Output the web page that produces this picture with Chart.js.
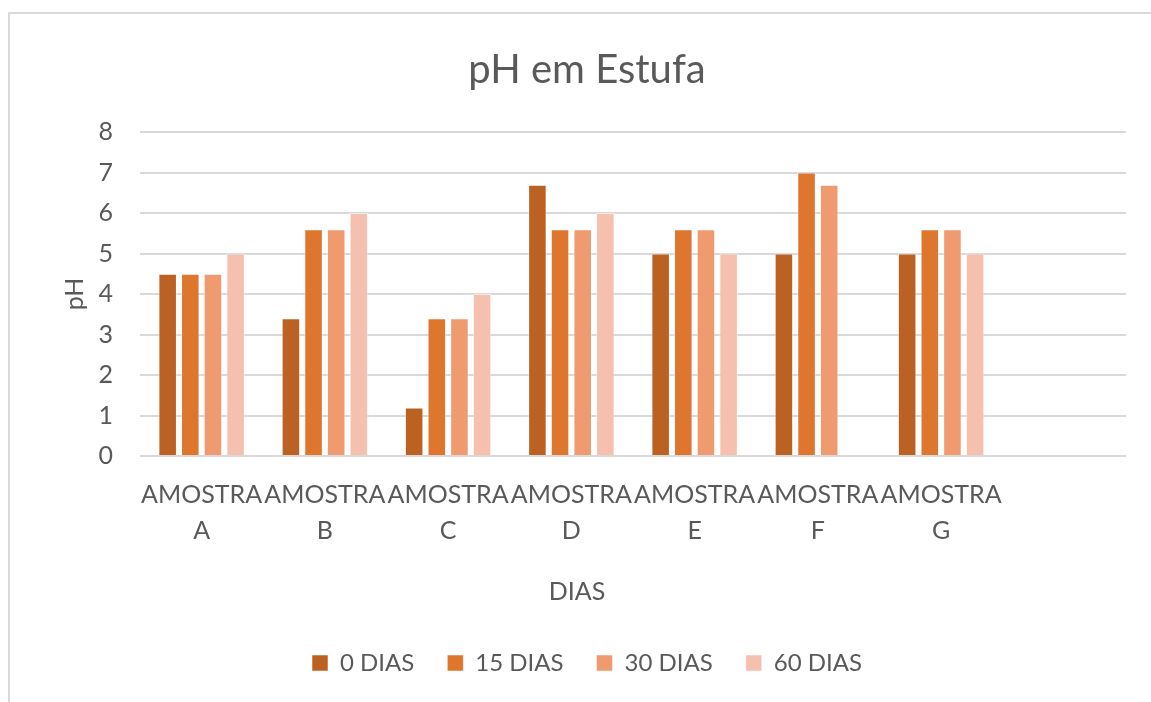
<!DOCTYPE html>
<html>
<head>
<meta charset="utf-8">
<script src="https://cdn.jsdelivr.net/npm/chart.js@4.4.1/dist/chart.umd.min.js"></script>
<style>
  html, body { margin: 0; padding: 0; background: #fff; }
  #frame {
    position: absolute; left: 8px; top: 12px; width: 1200px; height: 760px;
    border-left: 2px solid #d9d9d9; border-top: 2px solid #d9d9d9;
  }
  #wrap { position: absolute; left: 0; top: 0; width: 1151px; height: 702px; }
</style>
</head>
<body>
<div id="frame"></div>
<div id="wrap"><canvas id="myChart"></canvas></div>
<script>
const amostras = [
  ["AMOSTRA", "A"], ["AMOSTRA", "B"], ["AMOSTRA", "C"], ["AMOSTRA", "D"],
  ["AMOSTRA", "E"], ["AMOSTRA", "F"], ["AMOSTRA", "G"], ""
];
const dias0 = [4.5, 3.4, 1.2, 6.7, 5, 5, 5, null];
const dias15 = [4.5, 5.6, 3.4, 5.6, 5.6, 7, 5.6, null];
const dias30 = [4.5, 5.6, 3.4, 5.6, 5.6, 6.7, 5.6, null];
const dias60 = [5, 6, 4, 6, 5, null, 5, null];
const yTicks = [0, 1, 2, 3, 4, 5, 6, 7, 8];

const textColor = "#595959";
const fontName = "Lato";

const makeSet = (label, data, color) => ({
  label: label,
  data: data,
  backgroundColor: color,
  borderColor: "rgba(255,255,255,0.5)",
  borderWidth: 1,
  categoryPercentage: 0.735,
  barPercentage: 0.82
});

// x axis title keeps its space in the layout but is drawn here,
// left of the plot centre like in the Excel original
const diasTitle = {
  id: "diasTitle",
  afterDraw(chart) {
    const c = chart.ctx;
    const xs = chart.scales.x;
    c.save();
    c.fillStyle = textColor;
    c.textAlign = "center";
    c.textBaseline = "middle";
    c.font = "25px " + fontName;
    c.fillText("DIAS", (xs.left + xs.right) / 2 - 56, xs.bottom - 11 - 15);
    c.restore();
  }
};

const ctx = document.getElementById("myChart").getContext("2d");
const myChart = new Chart(ctx, {
  type: "bar",
  data: {
    labels: amostras,
    datasets: [
      makeSet("0 DIAS", dias0, "#bb6223"),
      makeSet("15 DIAS", dias15, "#de762e"),
      makeSet("30 DIAS", dias30, "#f09a70"),
      makeSet("60 DIAS", dias60, "#f5c1ae")
    ]
  },
  options: {
    responsive: true,
    maintainAspectRatio: false,
    animation: false,
    layout: { padding: { left: 48, right: 25, top: 0, bottom: 17 } },
    scales: {
      x: {
        grid: { display: false },
        border: { display: false },
        ticks: {
          color: textColor,
          font: { family: fontName, size: 25, lineHeight: 1.44 },
          padding: 13,
          autoSkip: false,
          maxRotation: 0,
          minRotation: 0
        },
        title: {
          display: true,
          text: "DIAS",
          color: "rgba(0,0,0,0)",
          font: { family: fontName, size: 25, lineHeight: 1.2 },
          padding: { top: 15, bottom: 11 }
        }
      },
      y: {
        min: 0,
        max: 8,
        afterBuildTicks: (scale) => {
          scale.ticks = yTicks.map((v) => ({ value: v }));
        },
        afterFit: (scale) => { scale.width = 92; },
        grid: { color: "#d9d9d9", lineWidth: 2, drawTicks: false },
        border: { display: false },
        ticks: {
          color: textColor,
          font: { family: fontName, size: 25 },
          padding: 27
        },
        title: {
          display: true,
          text: "pH",
          color: textColor,
          font: { family: fontName, size: 25, lineHeight: 1.2 },
          padding: { top: 12, bottom: 0 }
        }
      }
    },
    plugins: {
      title: {
        display: true,
        text: "pH em Estufa",
        color: textColor,
        font: { family: fontName, size: 40, weight: "normal", lineHeight: 1.2 },
        padding: { top: 46, bottom: 38 }
      },
      legend: {
        position: "bottom",
        labels: {
          color: textColor,
          font: { family: fontName, size: 24 },
          boxWidth: 16,
          boxHeight: 16,
          padding: 33
        }
      },
      tooltip: { enabled: false }
    }
  },
  plugins: [diasTitle]
});
</script>
</body>
</html>
